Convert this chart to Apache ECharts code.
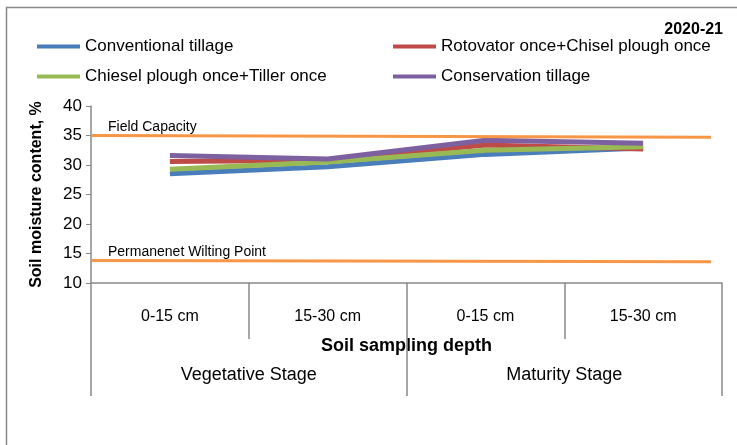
<!DOCTYPE html>
<html>
<head>
<meta charset="utf-8">
<script src="https://cdn.jsdelivr.net/npm/echarts@6/dist/echarts.min.js"></script>
<style>
  html, body { margin: 0; padding: 0; background: #fff; }
  #chart { width: 737px; height: 445px; }
</style>
</head>
<body>
<div id="chart"></div>
<script>
// data
const depths = ['0-15 cm', '15-30 cm', '0-15 cm', '15-30 cm']
const stages = ['Vegetative Stage', 'Maturity Stage']
const yTicks = { min: 10, max: 40, step: 5 }

const conventional = [28.5, 29.7, 31.8, 32.9]
const rotovatorChisel = [30.6, 30.8, 33.4, 32.7]
const chiselTiller = [29.3, 30.5, 32.5, 33.1]
const conservation = [31.6, 31.0, 34.2, 33.7]

// reference lines: [x position along the 4 categories, value]
const fieldCapacity = [[0, 35.0], [3.93, 34.7]]
const wiltingPoint = [[0, 13.8], [3.93, 13.6]]

const font = 'Liberation Sans'
const chart = echarts.init(document.getElementById('chart'))

const lineSeries = (name, data, color) => ({
  name,
  type: 'line',
  xAxisIndex: 0,
  data,
  symbol: 'none',
  lineStyle: { width: 5, color },
  itemStyle: { color },
})

const refSeries = (name, data, label) => ({
  name,
  type: 'line',
  xAxisIndex: 2,
  data: data.map((d, i) => i === 0
    ? { value: d, label: { show: true, formatter: label, position: 'top', align: 'left', offset: [17, 4], color: '#000', fontFamily: font, fontSize: 14 } }
    : { value: d }),
  symbol: 'circle',
  showSymbol: true,
  symbolSize: 0,
  lineStyle: { width: 3, color: '#F79646' },
  itemStyle: { color: '#F79646' },
})

const option = {
  animation: false,
  textStyle: { fontFamily: font },
  title: {
    text: '2020-21',
    right: 9,
    top: 17,
    textStyle: { fontFamily: font, fontSize: 16, fontWeight: 'bold', color: '#000' },
  },
  graphic: [{
    type: 'rect',
    shape: { x: 6.5, y: 7.5, width: 800, height: 500 },
    style: { fill: 'none', stroke: '#898989', lineWidth: 1.5 },
    silent: true,
  }],
  legend: [
    {
      left: 37, top: 38, padding: 0, orient: 'vertical', itemGap: 13,
      icon: 'rect', itemWidth: 43, itemHeight: 4,
      data: ['Conventional tillage', 'Chiesel plough once+Tiller once'],
      textStyle: { fontFamily: font, fontSize: 17, color: '#000' },
    },
    {
      left: 393, top: 38, padding: 0, orient: 'vertical', itemGap: 13,
      icon: 'rect', itemWidth: 43, itemHeight: 4,
      data: ['Rotovator once+Chisel plough once', 'Conservation tillage'],
      textStyle: { fontFamily: font, fontSize: 17, color: '#000' },
    },
  ],
  grid: { left: 91, right: 15, top: 106, bottom: 162 },
  xAxis: [
    {
      type: 'category',
      data: depths,
      boundaryGap: true,
      name: 'Soil sampling depth',
      nameLocation: 'middle',
      nameGap: 54,
      nameTextStyle: { fontFamily: font, fontSize: 18, fontWeight: 'bold', color: '#000' },
      axisLine: { lineStyle: { color: '#898989', width: 1.5 } },
      axisTick: { show: true, interval: 0, length: 56, lineStyle: { color: '#898989', width: 1.5 } },
      axisLabel: { margin: 26, fontSize: 16, color: '#000', fontFamily: font, interval: 0 },
    },
    {
      type: 'category',
      data: stages,
      position: 'bottom',
      boundaryGap: true,
      axisLine: { show: false },
      axisTick: { show: true, interval: 0, length: 113, lineStyle: { color: '#898989', width: 1.5 } },
      axisLabel: { margin: 83, fontSize: 18, color: '#000', fontFamily: font, interval: 0 },
    },
    {
      type: 'value',
      min: 0,
      max: 4,
      show: false,
    },
  ],
  yAxis: {
    type: 'value',
    min: yTicks.min,
    max: yTicks.max,
    interval: yTicks.step,
    name: 'Soil moisture content, %',
    nameLocation: 'middle',
    nameGap: 46,
    nameRotate: 90,
    nameTextStyle: { fontFamily: font, fontSize: 16, fontWeight: 'bold', color: '#000' },
    axisLine: { show: true, lineStyle: { color: '#898989', width: 1.5 } },
    axisTick: { show: true, length: 5, lineStyle: { color: '#898989' } },
    axisLabel: { fontSize: 17, color: '#000', fontFamily: font, margin: 9 },
    splitLine: { show: false },
  },
  series: [
    lineSeries('Conventional tillage', conventional, '#4A7EBB'),
    lineSeries('Rotovator once+Chisel plough once', rotovatorChisel, '#BE4B48'),
    lineSeries('Chiesel plough once+Tiller once', chiselTiller, '#98B954'),
    lineSeries('Conservation tillage', conservation, '#7D60A0'),
    refSeries('Field Capacity', fieldCapacity, 'Field Capacity'),
    refSeries('Permanenet Wilting Point', wiltingPoint, 'Permanenet Wilting Point'),
  ],
}

chart.setOption(option)
window.addEventListener('resize', () => chart.resize())
</script>
</body>
</html>
